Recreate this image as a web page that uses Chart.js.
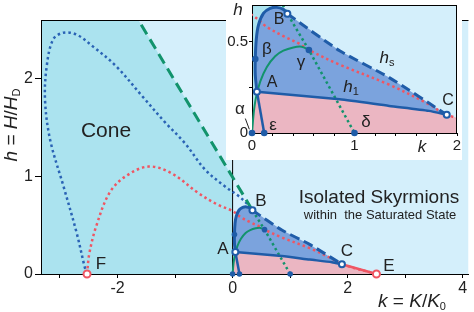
<!DOCTYPE html>
<html lang="en">
<head>
<meta charset="UTF-8">
<title>Isolated Skyrmions phase diagram</title>
<script src="https://cdn.jsdelivr.net/npm/chart.js"></script>
<style>
  html, body { margin: 0; padding: 0; background: #fff; }
  #wrap { position: relative; width: 474px; height: 312px; overflow: hidden;
          font-family: "Liberation Sans", Arial, sans-serif; color: #222; }
  #mainChart { position: absolute; left: 0; top: 0; }
  #insetBox { position: absolute; left: 226px; top: 0; width: 236px; height: 160px; background: #fff; }
  .lbl { position: absolute; transform: translate(-50%, -50%); line-height: 1; white-space: pre; }
  .lbl sub { font-size: 11px; vertical-align: -3px; line-height: 0; }
  .it { font-style: italic; }
</style>
</head>
<body>
<div id="wrap">
  <canvas id="mainChart" width="474" height="312"></canvas>
  <div id="insetBox"><canvas id="insetChart" width="236" height="160"></canvas></div>

  <!-- main chart texts -->
  <div class="lbl" style="left:106px;top:129px;font-size:21px">Cone</div>
  <div class="lbl" style="left:379px;top:196px;font-size:19px">Isolated Skyrmions</div>
  <div class="lbl" style="left:380px;top:214px;font-size:13px">within  the Saturated State</div>
  <div class="lbl" style="left:223px;top:248px;font-size:17px">A</div>
  <div class="lbl" style="left:261px;top:200px;font-size:17px">B</div>
  <div class="lbl" style="left:347px;top:250px;font-size:17px">C</div>
  <div class="lbl" style="left:389px;top:265px;font-size:17px">E</div>
  <div class="lbl" style="left:101px;top:263px;font-size:17px">F</div>
  <div class="lbl" style="left:10px;top:125px;font-size:19px;transform:translate(-50%,-50%) rotate(-90deg)"><i>h</i> = <i>H</i>/<i>H</i><sub>D</sub></div>
  <div class="lbl" style="left:412px;top:300px;font-size:19px"><i>k</i> = <i>K</i>/<i>K</i><sub>0</sub></div>

  <!-- inset texts -->
  <div class="lbl it" style="left:238px;top:9px;font-size:17px">h</div>
  <div class="lbl it" style="left:422px;top:146px;font-size:17px">k</div>
  <div class="lbl" style="left:240px;top:108px;font-size:17px">α</div>
  <div class="lbl" style="left:267px;top:48px;font-size:17px">β</div>
  <div class="lbl" style="left:301px;top:61px;font-size:17px">γ</div>
  <div class="lbl" style="left:366px;top:121px;font-size:17px">δ</div>
  <div class="lbl" style="left:273px;top:124px;font-size:17px">ε</div>
  <div class="lbl" style="left:272px;top:82px;font-size:16px">A</div>
  <div class="lbl" style="left:279px;top:19px;font-size:16px">B</div>
  <div class="lbl" style="left:448px;top:100px;font-size:16px">C</div>
  <div class="lbl" style="left:387px;top:57px;font-size:17px"><i>h</i><sub>s</sub></div>
  <div class="lbl" style="left:351px;top:86px;font-size:17px"><i>h</i><sub>1</sub></div>
</div>

<script>
// ---- data (k = K/K0, h = H/HD) ----
const mainXLabels = [-2, 0, 2, 4];
const mainYLabels = [0, 1, 2];
const insetXLabels = [0, 1, 2];
const insetYLabels = [0, 0.5];

// cone region boundary (under green dashed line, k < 0)
const coneK = [-3.5, -3.5, -1.74, 0, 0];
const coneH = [0, 2.7, 2.7, 0.99, 0];
// inset cyan strip left of the A-B curve
const cyanInK = [-0.1, -0.1, 0.3, 0.3];
const cyanInH = [0, 0.75, 0.75, 0];

// blue dotted loop F -> B
const blueDotK = [-2.53, -2.57, -2.71, -2.94, -3.17, -3.26, -3.23, -3.12, -2.94, -2.71, -2.43, -2.03, -1.57, -1.17, -0.83, -0.48, -0.14, 0.1, 0.25, 0.345];
const blueDotH = [0, 0.07, 0.42, 0.9, 1.37, 1.78, 2.13, 2.4, 2.47, 2.45, 2.33, 2.13, 1.82, 1.55, 1.34, 1.07, 0.9, 0.8, 0.72, 0.652];
// red dotted F -> C -> E
const redDotK = [-2.53, -2.49, -2.37, -2.14, -1.86, -1.46, -1.06, -0.60, -0.26, 0, 0.145, 0.306, 0.468, 0.555, 0.855, 1.339, 1.726, 1.9, 2.5];
const redDotH = [0, 0.21, 0.49, 0.83, 1.0, 1.10, 1.03, 0.83, 0.71, 0.645, 0.58, 0.53, 0.486, 0.454, 0.374, 0.264, 0.157, 0.1, 0];
// green dashed (cone boundary) -> B
const greenDashK = [-1.74, 0.345];
const greenDashH = [2.7, 0.652];
// green dotted through B, gamma, delta
const greenDotK = [0.30, 0.345, 0.555, 1.0];
const greenDotH = [0.70, 0.652, 0.454, 0];
// green solid alpha -> gamma
const greenK = [0, 0.016, 0.038, 0.08, 0.145, 0.226, 0.306, 0.403, 0.484, 0.555];
const greenH = [0, 0.105, 0.192, 0.281, 0.361, 0.42, 0.45, 0.468, 0.472, 0.454];
// blue solid A -> beta -> B
const blueTopK = [0.048, 0.032, 0.032, 0.042, 0.064, 0.113, 0.177, 0.242, 0.306, 0.345];
const blueTopH = [0.226, 0.317, 0.405, 0.514, 0.592, 0.655, 0.681, 0.687, 0.676, 0.652];
// h1: A -> C
const h1K = [0.048, 0.855, 1.339, 1.726, 1.9];
const h1H = [0.226, 0.184, 0.148, 0.121, 0.1];
// hs (dashed): B -> C
const hsK = [0.345, 0.855, 1.339, 1.9];
const hsH = [0.652, 0.45, 0.303, 0.1];
// A -> epsilon
const aeK = [0.048, 0.119];
const aeH = [0.226, 0];
// C -> E
const ceK = [1.9, 2.5];
const ceH = [0.1, 0];
// k = 0 line
const axisK = [0, 0];
const axisH = [0, 2.7];
// alpha pointer in the inset
const leaderK = [-0.065, -0.026];
const leaderH = [0.079, 0.02];

// points: alpha, epsilon, delta, beta, gamma
const dotK = [0, 0.119, 1.0, 0.032, 0.555];
const dotH = [0, 0, 0, 0.405, 0.454];
// A, B, C
const openK = [0.048, 0.345, 1.9];
const openH = [0.226, 0.652, 0.1];
// F, E
const endK = [-2.53, 2.5];
const endH = [0, 0];

// ---- styles ----
const lightBlue = '#d4effb', cyan = '#abe3ef', blueFill = '#7ba3dd', pink = '#ebb6c2';
const lineBlue = '#1f5ca8', dotBlue = '#2a63b5', green = '#12936c', red = '#ef5663';
const font = '"Liberation Sans", Arial, sans-serif';

const pts = (ks, hs) => ks.map((k, i) => ({ x: k, y: hs[i] }));
const curve = (data, color, width, dash, tension) => ({
  data, showLine: true, borderColor: color, borderWidth: width, borderDash: dash,
  tension, pointRadius: 0, pointHoverRadius: 0, fill: false
});
const marker = (data, fillC, strokeC, r, bw) => ({
  data, showLine: false, pointRadius: r, pointHoverRadius: r,
  pointBackgroundColor: fillC, pointBorderColor: strokeC, pointBorderWidth: bw, clip: false
});

const blueRegK = blueTopK.concat(hsK.slice(1), h1K.slice(0, -1).reverse());
const blueRegH = blueTopH.concat(hsH.slice(1), h1H.slice(0, -1).reverse());
const pinkK = [0].concat(h1K, [ceK[1]]);
const pinkH = [0].concat(h1H, [ceH[1]]);

function paint(regions, rightEdge) {
  return {
    id: 'paint',
    beforeDraw(chart) {
      const { ctx, chartArea: a, scales: { x, y } } = chart;
      ctx.save();
      ctx.beginPath(); ctx.rect(a.left, a.top, a.width, a.height); ctx.clip();
      ctx.fillStyle = lightBlue;
      ctx.fillRect(a.left, a.top, a.width, a.height);
      regions.forEach(r => {
        ctx.beginPath();
        r.k.forEach((k, i) => {
          const px = x.getPixelForValue(k), py = y.getPixelForValue(r.h[i]);
          if (i) ctx.lineTo(px, py); else ctx.moveTo(px, py);
        });
        ctx.closePath();
        ctx.fillStyle = r.color;
        ctx.fill();
      });
      ctx.restore();
    },
    afterDraw(chart) {
      const { ctx, chartArea: a } = chart;
      ctx.save();
      ctx.strokeStyle = '#000'; ctx.lineWidth = 1;
      ctx.beginPath();
      ctx.moveTo(a.left, Math.round(a.top) + 0.5); ctx.lineTo(a.right, Math.round(a.top) + 0.5);
      if (rightEdge) { ctx.moveTo(Math.round(a.right) - 0.5, a.top); ctx.lineTo(Math.round(a.right) - 0.5, a.bottom); }
      ctx.stroke();
      ctx.restore();
    }
  };
}

function axes(xr, yr) {
  const near = (v, list) => list.find(l => Math.abs(l - v) < 1e-6);
  return {
    x: {
      type: 'linear', min: xr.min, max: xr.max,
      border: { display: true, color: '#000', width: 1 },
      grid: { drawOnChartArea: false, drawTicks: true, tickLength: xr.tick, tickColor: '#000' },
      ticks: {
        stepSize: xr.step, includeBounds: false, autoSkip: false, maxRotation: 0,
        padding: xr.pad, color: '#222', font: { family: font, size: xr.size },
        callback: v => { const l = near(v, xr.labels); return l === undefined ? '' : String(l); }
      },
      afterFit(s) { s.height = xr.fit; s.paddingLeft = 0; s.paddingRight = 0; }
    },
    y: {
      type: 'linear', min: yr.min, max: yr.max,
      border: { display: true, color: '#000', width: 1 },
      grid: { drawOnChartArea: false, drawTicks: true, tickLength: yr.tick, tickColor: '#000' },
      ticks: {
        stepSize: yr.step, includeBounds: false, autoSkip: false,
        padding: yr.pad, color: '#222', font: { family: font, size: yr.size },
        callback: v => { const l = near(v, yr.labels); return l === undefined ? '' : String(l); }
      },
      afterFit(s) { s.width = yr.fit; s.paddingTop = 0; s.paddingBottom = 0; }
    }
  };
}

const baseOptions = {
  responsive: false, animation: false, events: [],
  elements: { line: { capBezierPoints: false, borderCapStyle: 'butt' } },
  plugins: { legend: { display: false }, tooltip: { enabled: false } }
};

// ---- main chart ----
new Chart(document.getElementById('mainChart'), {
  type: 'scatter',
  data: {
    datasets: [
      marker(pts(endK, endH), '#fff', red, 3.5, 2),
      marker(pts(openK, openH), '#fff', lineBlue, 3, 2),
      marker(pts(dotK, dotH), lineBlue, lineBlue, 2.8, 0),
      curve(pts(ceK, ceH), red, 2.5, [], 0),
      curve(pts(blueTopK, blueTopH), lineBlue, 3, [], 0.35),
      curve(pts(h1K, h1H), lineBlue, 2.5, [], 0.2),
      curve(pts(aeK, aeH), lineBlue, 2.5, [], 0),
      curve(pts(hsK, hsH), lineBlue, 3, [10, 5], 0.2),
      curve(pts(greenK, greenH), green, 2, [], 0.35),
      curve(pts(greenDotK.slice(1), greenDotH.slice(1)), green, 2.5, [2.5, 3], 0),
      curve(pts(greenDashK, greenDashH), green, 3, [11, 6], 0),
      curve(pts(redDotK, redDotH), red, 2.5, [2.5, 3], 0.35),
      curve(pts(blueDotK, blueDotH), dotBlue, 2.5, [2.5, 3], 0.35),
      curve(pts(axisK, axisH), '#000', 1, [], 0)
    ]
  },
  options: Object.assign({}, baseOptions, {
    layout: { padding: { top: 20, right: 0, left: 0, bottom: 0 } },
    scales: axes(
      { min: -3.33, max: 4.1, step: 1, labels: mainXLabels, tick: 4, pad: 1, size: 16, fit: 38 },
      { min: 0, max: 2.6, step: 1, labels: mainYLabels, tick: 6, pad: 2, size: 16, fit: 41 }
    )
  }),
  plugins: [paint([
    { k: coneK, h: coneH, color: cyan },
    { k: blueRegK, h: blueRegH, color: blueFill },
    { k: pinkK, h: pinkH, color: pink }
  ], false)]
});

// ---- inset chart ----
const leader = curve(pts(leaderK, leaderH), '#222', 1, [], 0);
leader.clip = false;
new Chart(document.getElementById('insetChart'), {
  type: 'scatter',
  data: {
    datasets: [
      marker(pts(openK, openH), '#fff', lineBlue, 3, 2),
      marker(pts(dotK, dotH), lineBlue, lineBlue, 3.3, 0),
      leader,
      curve(pts(blueTopK, blueTopH), lineBlue, 3, [], 0.35),
      curve(pts(h1K, h1H), lineBlue, 2.5, [], 0.2),
      curve(pts(aeK, aeH), lineBlue, 2.5, [], 0),
      curve(pts(hsK, hsH), lineBlue, 3, [10, 5], 0.2),
      curve(pts(greenK, greenH), green, 2, [], 0.35),
      curve(pts(greenDotK, greenDotH), green, 2.5, [2.5, 3], 0),
      curve(pts(redDotK, redDotH), red, 2.5, [2.5, 3], 0.35)
    ]
  },
  options: Object.assign({}, baseOptions, {
    layout: { padding: { top: 2, right: 4, left: 0, bottom: 0 } },
    scales: axes(
      { min: 0, max: 2, step: 0.2, labels: insetXLabels, tick: 3, pad: 1, size: 15, fit: 27 },
      { min: 0, max: 0.7, step: 0.25, labels: insetYLabels, tick: 3, pad: 1, size: 15, fit: 26 }
    )
  }),
  plugins: [paint([
    { k: cyanInK, h: cyanInH, color: cyan },
    { k: blueRegK, h: blueRegH, color: blueFill },
    { k: pinkK, h: pinkH, color: pink }
  ], true)]
});
</script>
</body>
</html>
